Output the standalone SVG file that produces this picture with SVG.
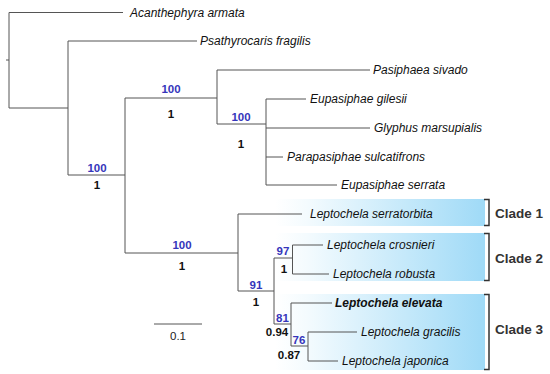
<svg xmlns="http://www.w3.org/2000/svg" width="550" height="374" viewBox="0 0 550 374">
<defs>
<linearGradient id="grad" x1="0" y1="0" x2="1" y2="0">
<stop offset="0" stop-color="#ffffff"/>
<stop offset="0.15" stop-color="#f4fbfe"/>
<stop offset="1" stop-color="#9fdaf7"/>
</linearGradient>
</defs>
<style>
.br{fill:none;stroke:#555;stroke-width:1}
.bk{fill:none;stroke:#333;stroke-width:1.5}
.sp{font-family:"Liberation Sans",Arial,sans-serif;font-size:12px;font-style:italic;fill:#111}
.bs{font-family:"Liberation Sans",Arial,sans-serif;font-size:11.5px;font-weight:bold;fill:#3535bb;text-anchor:middle}
.pp{font-family:"Liberation Sans",Arial,sans-serif;font-size:11.5px;font-weight:bold;fill:#111;text-anchor:middle}
.cl{font-family:"Liberation Sans",Arial,sans-serif;font-size:13.5px;font-weight:bold;fill:#333}
.sc{font-family:"Liberation Sans",Arial,sans-serif;font-size:11.5px;fill:#222;text-anchor:middle}
</style>
<g id="clade-boxes">
<rect x="275" y="199" width="210" height="27" fill="url(#grad)"/>
<rect x="275" y="233" width="210" height="48" fill="url(#grad)"/>
<rect x="275" y="294" width="210" height="76" fill="url(#grad)"/>
</g>
<g id="connectors">
<path class="br" d="M6 60H9M9 12.5V108M9 12.5H123M9 108H68"/>
<path class="br" d="M68 41V175M68 41H197M68 175H125"/>
<path class="br" d="M125 98V253M125 98H217M125 253H238"/>
<path class="br" d="M217 70V124M217 70H370M217 124H266"/>
<path class="br" d="M266 99V185M266 99H306M266 128H370M266 157H283M266 185H337"/>
<path class="br" d="M238 214V291M238 214H302M238 291H274"/>
<path class="br" d="M274 258V324M274 258H292.5M274 324H291"/>
<path class="br" d="M292.5 245V274M292.5 245H323M292.5 274H329"/>
<path class="br" d="M291 303V346M291 303H332M291 346H308"/>
<path class="br" d="M308 332V361M308 332H357M308 361H338"/>
<path class="br" d="M154 324H202"/>
</g>
<g id="brackets">
<path class="bk" d="M484 199.5H489V225.5H484"/>
<path class="bk" d="M484 233.5H489V280.5H484"/>
<path class="bk" d="M484 294.5H489V369.5H484"/>
</g>
<g id="taxa">
<text class="sp" x="130" y="16.5">Acanthephyra armata</text>
<text class="sp" x="200" y="45">Psathyrocaris fragilis</text>
<text class="sp" x="373" y="74">Pasiphaea sivado</text>
<text class="sp" x="310" y="103">Eupasiphae gilesii</text>
<text class="sp" x="374" y="132">Glyphus marsupialis</text>
<text class="sp" x="287" y="161">Parapasiphae sulcatifrons</text>
<text class="sp" x="341" y="189">Eupasiphae serrata</text>
<text class="sp" x="310" y="218">Leptochela serratorbita</text>
<text class="sp" x="327" y="249">Leptochela crosnieri</text>
<text class="sp" x="333" y="278">Leptochela robusta</text>
<text class="sp" x="335" y="307" font-weight="bold">Leptochela elevata</text>
<text class="sp" x="361" y="336">Leptochela gracilis</text>
<text class="sp" x="342" y="365">Leptochela japonica</text>
</g>
<g id="support">
<text class="bs" x="171" y="93">100</text>
<text class="pp" x="171" y="118">1</text>
<text class="bs" x="241" y="121">100</text>
<text class="pp" x="241" y="148">1</text>
<text class="bs" x="97" y="172">100</text>
<text class="pp" x="97" y="189">1</text>
<text class="bs" x="182" y="249">100</text>
<text class="pp" x="182" y="270">1</text>
<text class="bs" x="256" y="289">91</text>
<text class="pp" x="256" y="306">1</text>
<text class="bs" x="283" y="255">97</text>
<text class="pp" x="284" y="273">1</text>
<text class="bs" x="282.5" y="322">81</text>
<text class="pp" x="277" y="336">0.94</text>
<text class="bs" x="299" y="344">76</text>
<text class="pp" x="289" y="359">0.87</text>
</g>
<g id="clade-labels">
<text class="cl" x="495" y="218">Clade 1</text>
<text class="cl" x="495" y="263">Clade 2</text>
<text class="cl" x="495" y="334">Clade 3</text>
</g>
<g id="scale">
<text class="sc" x="178" y="340">0.1</text>
</g>
</svg>
